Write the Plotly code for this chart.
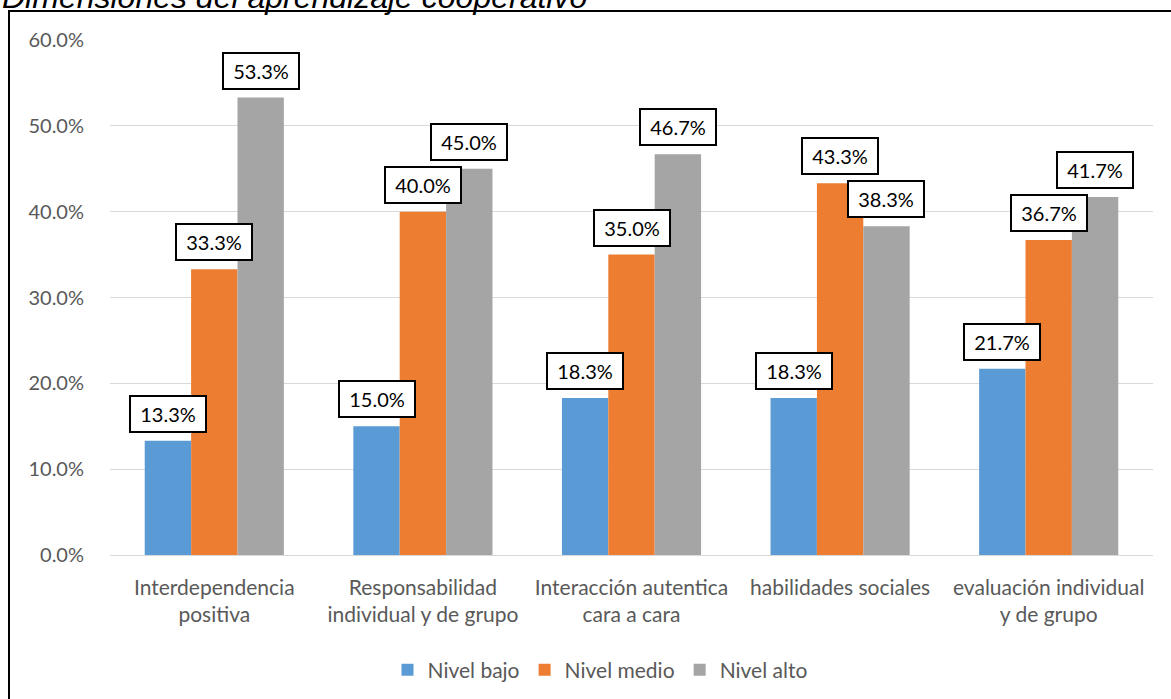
import plotly.graph_objects as go

categories = ["Interdependencia<br>positiva", "Responsabilidad<br>individual y de grupo",
              "Interacción autentica<br>cara a cara", "habilidades sociales",
              "evaluación individual<br>y de grupo"]
series_names = ["Nivel bajo", "Nivel medio", "Nivel alto"]
nivel_bajo = [0.133, 0.150, 0.183, 0.183, 0.217]
nivel_medio = [0.333, 0.400, 0.350, 0.433, 0.367]
nivel_alto = [0.533, 0.450, 0.467, 0.383, 0.417]
colors = ["#5B9BD5", "#ED7D31", "#A5A5A5"]
title_text = "Dimensiones del aprendizaje cooperativo"

W, H = 1171, 699
L, R, T, B = 110, 1153, 40, 555

def px_x(p):
    return (p - L) / (R - L)

def px_y(p):
    return (B - p) / (B - T)

x_idx = list(range(len(categories)))
bargap = 0.333
bar_w = (1 - bargap) / 3

fig = go.Figure()
all_series = [nivel_bajo, nivel_medio, nivel_alto]
for name, vals, col in zip(series_names, all_series, colors):
    fig.add_trace(go.Bar(x=x_idx, y=vals, name=name, marker=dict(color=col, line=dict(width=0)),
                         hoverinfo="skip"))

annotations = []
for j, vals in enumerate(all_series):
    for i, v in enumerate(vals):
        annotations.append(dict(
            x=i + (j - 1) * bar_w, y=v, xref="x", yref="y",
            text=f"{v*100:.1f}%", showarrow=False,
            xanchor="center", yanchor="bottom", yshift=8,
            font=dict(family="Lato", size=20, color="#000000"),
            bgcolor="#FFFFFF", bordercolor="#000000", borderwidth=2,
            borderpad=5, width=64, height=24,
        ))

annotations.append(dict(
    x=px_x(0), y=px_y(17), xref="paper", yref="paper",
    text=f"<i>{title_text}</i>", showarrow=False,
    xanchor="left", yanchor="bottom",
    font=dict(family="Liberation Sans", size=32, color="#000000"),
))

fig.update_layout(
    width=W, height=H,
    margin=dict(l=L, r=W - R, t=T, b=H - B, pad=0, autoexpand=False),
    paper_bgcolor="#FFFFFF", plot_bgcolor="#FFFFFF",
    barmode="group", bargap=bargap, bargroupgap=0,
    font=dict(family="Lato", size=21, color="#595959"),
    showlegend=True,
    legend=dict(orientation="h", x=px_x(600), xanchor="center", y=px_y(670), yanchor="middle",
                font=dict(family="Lato", size=21, color="#595959"), traceorder="normal",
                bgcolor="rgba(0,0,0,0)"),
    annotations=annotations,
    shapes=[dict(type="rect", xref="paper", yref="paper",
                 x0=px_x(9), x1=px_x(1200), y0=px_y(730), y1=px_y(11),
                 line=dict(color="#000000", width=2), fillcolor="rgba(0,0,0,0)", layer="below")],
)
fig.update_xaxes(tickmode="array", tickvals=x_idx, ticktext=categories, range=[-0.5, len(categories) - 0.5],
                 showgrid=False, zeroline=False, showline=False, ticks="",
                 tickfont=dict(family="Lato", size=21, color="#595959"), ticklabelstandoff=18)
fig.update_yaxes(range=[0, 0.6], dtick=0.1, tickformat=".1%", showgrid=True, gridcolor="#D9D9D9",
                 gridwidth=1, zeroline=True, zerolinecolor="#D9D9D9", zerolinewidth=1, showline=False,
                 ticks="", tickfont=dict(family="Lato", size=20, color="#595959"), ticklabelstandoff=25)

fig.write_html("out.html", config={"displayModeBar": False},
               post_script="document.body.style.margin='0';document.body.style.overflow='hidden';")
